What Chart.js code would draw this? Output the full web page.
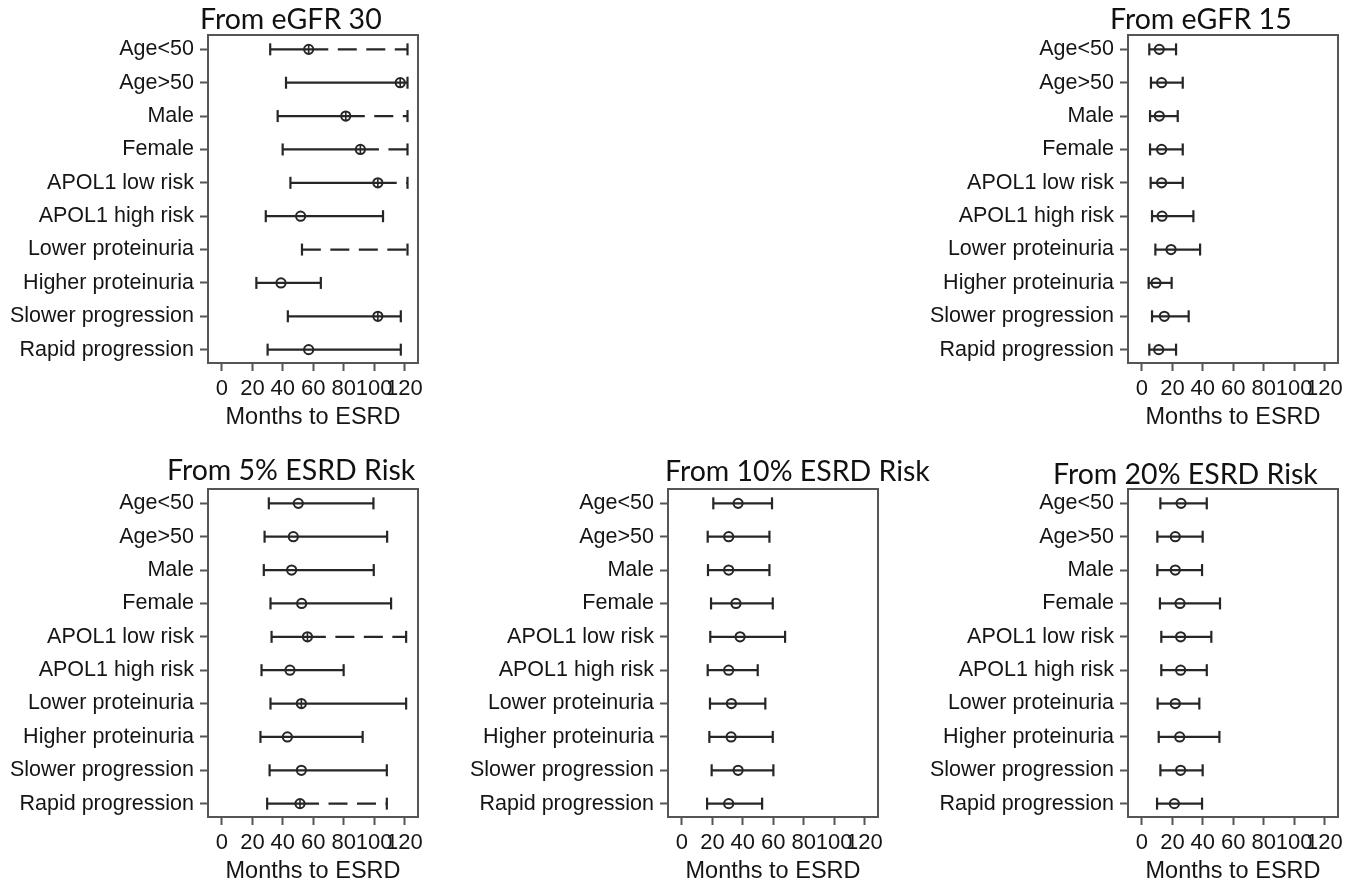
<!DOCTYPE html>
<html lang="en">
  <head>
    <meta charset="UTF-8" />
    <title>Months to ESRD by subgroup</title>
    <style>
      body {
        margin: 0;
        background: #fff;
        width: 1362px;
        height: 891px;
        overflow: hidden;
        position: relative;
      }
      canvas {
        position: absolute;
      }
      .panel-title {
        position: absolute;
        font-family: Lato, "Open Sans", sans-serif;
        font-size: 28.5px;
        line-height: 1;
        color: #111;
        white-space: nowrap;
      }
    </style>
  </head>
  <body>
    <canvas id="chartEgfr30" width="460" height="437" style="left: 0; top: 0"></canvas>
    <canvas id="chartEgfr15" width="460" height="437" style="left: 920px; top: 0"></canvas>
    <canvas id="chartRisk5" width="460" height="437" style="left: 0; top: 454px"></canvas>
    <canvas id="chartRisk10" width="460" height="437" style="left: 460px; top: 454px"></canvas>
    <canvas id="chartRisk20" width="460" height="437" style="left: 920px; top: 454px"></canvas>

    <div class="panel-title" style="left: 200px; top: 4px">From eGFR 30</div>
    <div class="panel-title" style="left: 1110px; top: 4px">From eGFR 15</div>
    <div class="panel-title" style="left: 167px; top: 455px">From 5% ESRD Risk</div>
    <div class="panel-title" style="left: 665px; top: 456px">From 10% ESRD Risk</div>
    <div class="panel-title" style="left: 1053px; top: 459px">From 20% ESRD Risk</div>

    <script src="https://cdn.jsdelivr.net/npm/chart.js@4.4.1/dist/chart.umd.min.js"></script>
    <script>
      var rowLabels = [
        "Age<50",
        "Age>50",
        "Male",
        "Female",
        "APOL1 low risk",
        "APOL1 high risk",
        "Lower proteinuria",
        "Higher proteinuria",
        "Slower progression",
        "Rapid progression",
      ];
      var monthTicks = [0, 20, 40, 60, 80, 100, 120];

      // From eGFR 30 (dashFrom: where the solid part stops and the dashed part starts)
      var lo30 = [31.7, 42.1, 36.6, 39.9, 45, 28.8, 52.6, 22.6, 43.3, 30];
      var est30 = [57, 117.2, 81.4, 91, 102.5, 51.7, null, 38.8, 102.5, 57];
      var hi30 = [122, 122, 122, 122, 122, 105.9, 122, 65, 117.6, 117.6];
      var dashFrom30 = [69.9, null, 93.9, 103.2, 114.9, null, 65, null, null, null];
      var crossRows30 = [0, 1, 2, 3, 4, 8];

      // From eGFR 15
      var lo15 = [4.8, 5.9, 5.3, 5.3, 5.7, 6.6, 8.8, 4.4, 6.6, 4.8];
      var est15 = [11.4, 12.9, 11.4, 12.9, 12.9, 13.2, 19.1, 9.2, 14.7, 11];
      var hi15 = [22.4, 26.8, 23.5, 26.8, 26.8, 33.8, 38.2, 19.5, 30.7, 22.4];

      // From 5% ESRD risk
      var lo5 = [30.8, 28, 27.5, 31.9, 32.6, 26, 31.9, 25.3, 31.3, 29.7];
      var est5 = [50.2, 46.9, 45.8, 52.4, 56.2, 44.7, 52.2, 43, 52.2, 51.3];
      var hi5 = [99.6, 108.6, 99.8, 111.2, 121.1, 80, 121.1, 92.5, 108.4, 108.4];
      var dashFrom5 = [null, null, null, null, 68.3, null, null, null, null, 63.8];
      var crossRows5 = [4, 6, 9];

      // From 10% ESRD risk
      var lo10 = [20.6, 16.9, 17.1, 19.1, 18.6, 16.9, 18.4, 18, 19.5, 16.5];
      var est10 = [36.9, 30.7, 30.7, 35.5, 38.2, 30.7, 32.5, 32.3, 36.9, 30.7];
      var hi10 = [59.2, 57.5, 57.5, 59.7, 67.8, 49.8, 54.8, 59.7, 60.1, 52.7];

      // From 20% ESRD risk
      var lo20 = [12.1, 10.1, 10.1, 11.8, 12.7, 12.7, 10.3, 11, 12.1, 9.9];
      var est20 = [25.7, 21.9, 21.9, 25, 25.4, 25.4, 21.9, 24.8, 25.4, 21.3];
      var hi20 = [42.6, 39.9, 39.5, 51.3, 45.6, 42.6, 37.7, 50.9, 39.9, 39.5];

      var ink = "#262626";
      var frame = "#555555";

      Chart.defaults.font.family = '"Liberation Sans", Arial, sans-serif';
      Chart.defaults.font.size = 21.5;
      Chart.defaults.color = "#151515";

      // draws the plot region frame
      var framePlugin = {
        id: "frame",
        afterDraw: function (chart) {
          var a = chart.chartArea;
          var ctx = chart.ctx;
          ctx.save();
          ctx.strokeStyle = frame;
          ctx.lineWidth = 2;
          ctx.strokeRect(a.left, a.top, a.right - a.left, a.bottom - a.top);
          ctx.restore();
        },
      };

      // pairs of points per row, split by gaps
      function segments(from, to) {
        var pts = [];
        for (var i = 0; i < from.length; i++) {
          if (from[i] == null || to[i] == null) continue;
          pts.push({ x: from[i], y: i }, { x: to[i], y: i }, { x: null, y: null });
        }
        return pts;
      }

      function points(values, rows) {
        var pts = [];
        for (var i = 0; i < values.length; i++) {
          if (values[i] == null) continue;
          if (rows && rows.indexOf(i) < 0) continue;
          pts.push({ x: values[i], y: i });
        }
        return pts;
      }

      function createChart(id, lo, est, hi, dashFrom, crossRows) {
        var solidEnd = hi.map(function (v, i) {
          return dashFrom && dashFrom[i] != null ? dashFrom[i] : v;
        });

        var datasets = [
          {
            label: "CI",
            data: segments(lo, solidEnd),
            showLine: true,
            spanGaps: false,
            borderColor: ink,
            borderWidth: 2.2,
            pointRadius: 0,
          },
        ];
        if (dashFrom) {
          datasets.push({
            label: "CI open",
            data: segments(dashFrom, hi),
            showLine: true,
            spanGaps: false,
            borderColor: ink,
            borderWidth: 2.2,
            borderDash: [19, 9.5],
            borderDashOffset: 19,
            pointRadius: 0,
          });
        }
        datasets.push({
          label: "caps",
          data: points(lo).concat(points(hi)),
          pointStyle: "line",
          pointRotation: 90,
          pointRadius: 6,
          pointBorderWidth: 2.2,
          pointBorderColor: ink,
        });
        datasets.push({
          label: "estimate",
          data: points(est),
          pointStyle: "circle",
          pointRadius: 4.6,
          pointBorderWidth: 2,
          pointBorderColor: ink,
          pointBackgroundColor: "rgba(0,0,0,0)",
        });
        if (crossRows) {
          datasets.push({
            label: "estimate mark",
            data: points(est, crossRows),
            pointStyle: "line",
            pointRotation: 90,
            pointRadius: 4.6,
            pointBorderWidth: 1.6,
            pointBorderColor: ink,
          });
        }

        var ctx = document.getElementById(id).getContext("2d");
        return new Chart(ctx, {
          type: "scatter",
          data: { datasets: datasets },
          plugins: [framePlugin],
          options: {
            responsive: false,
            animation: false,
            events: [],
            layout: { padding: { top: 35, right: 42, left: 0, bottom: 0 } },
            plugins: { legend: { display: false }, tooltip: { enabled: false } },
            scales: {
              x: {
                type: "linear",
                min: -9.2,
                max: 128.9,
                afterBuildTicks: function (scale) {
                  scale.ticks = monthTicks.map(function (v) {
                    return { value: v };
                  });
                },
                afterFit: function (scale) {
                  scale.height = 74;
                },
                ticks: {
                  autoSkip: false,
                  maxRotation: 0,
                  minRotation: 0,
                  padding: 5,
                  font: { size: 22 },
                  callback: function (v) {
                    return String(v);
                  },
                },
                grid: {
                  drawOnChartArea: false,
                  drawTicks: true,
                  tickLength: 8,
                  tickWidth: 2,
                  tickColor: frame,
                },
                border: { display: false },
                title: {
                  display: true,
                  text: "Months to ESRD",
                  font: { size: 23.5 },
                  padding: { top: 0, bottom: 5 },
                },
              },
              y: {
                type: "linear",
                reverse: true,
                min: -0.43,
                max: 9.4,
                afterBuildTicks: function (scale) {
                  scale.ticks = rowLabels.map(function (l, i) {
                    return { value: i };
                  });
                },
                afterFit: function (scale) {
                  scale.width = 208;
                },
                ticks: {
                  autoSkip: false,
                  padding: 6,
                  callback: function (v) {
                    return rowLabels[v];
                  },
                },
                grid: {
                  drawOnChartArea: false,
                  drawTicks: true,
                  tickLength: 8,
                  tickWidth: 2,
                  tickColor: frame,
                },
                border: { display: false },
              },
            },
          },
        });
      }

      createChart("chartEgfr30", lo30, est30, hi30, dashFrom30, crossRows30);
      createChart("chartEgfr15", lo15, est15, hi15, null, null);
      createChart("chartRisk5", lo5, est5, hi5, dashFrom5, crossRows5);
      createChart("chartRisk10", lo10, est10, hi10, null, null);
      createChart("chartRisk20", lo20, est20, hi20, null, null);
    </script>
  </body>
</html>
